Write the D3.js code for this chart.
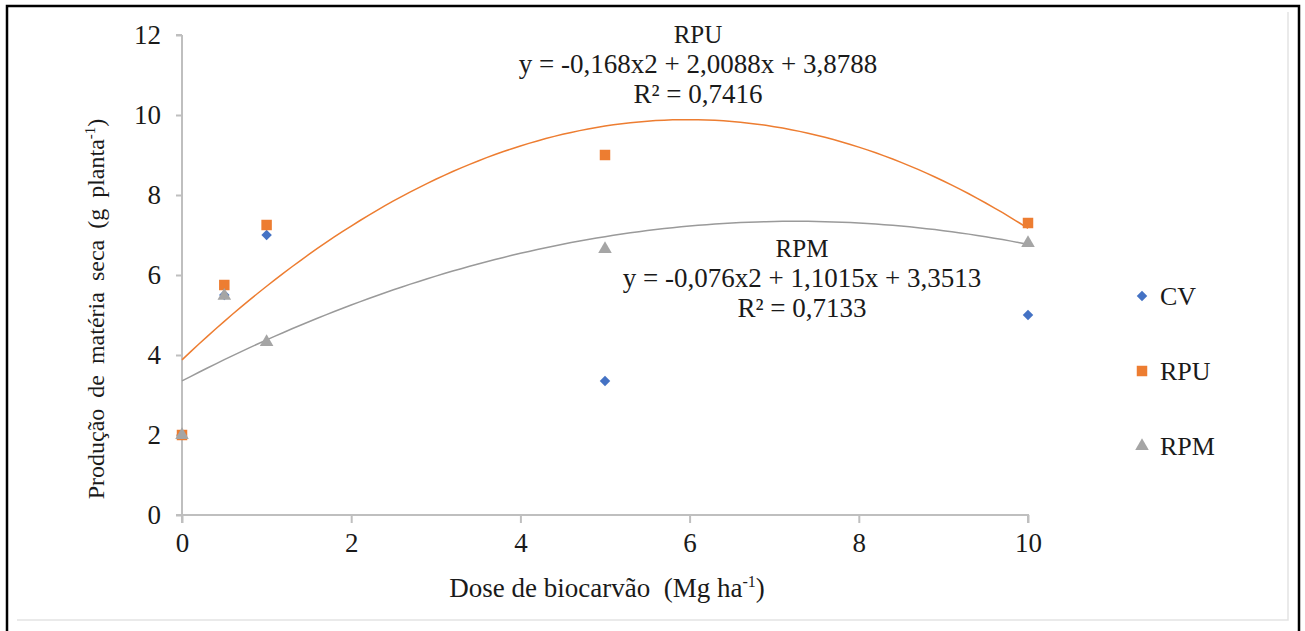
<html lang="en">
<head>
    <meta charset="UTF-8">
    <title>Produção de matéria seca</title>
    <style>
        body { margin: 0; background: #fff; }
        text { font-family: "Liberation Serif", "Times New Roman", serif; fill: #1a1a1a; }
    </style>
</head>
<body>
    <div id="graph"></div>
    <script src="https://d3js.org/d3.v7.min.js"></script>
    <script>
        // data
        var doses = [0, 0.5, 1, 5, 10];
        var cv  = [2, 5.5, 7.0, 3.35, 5.0];
        var rpu = [2, 5.75, 7.25, 9.0, 7.3];
        var rpm = [2, 5.48, 4.32, 6.65, 6.8];
        var seriesNames = ["CV", "RPU", "RPM"];
        var xTicks = [0, 2, 4, 6, 8, 10];
        var yTicks = [0, 2, 4, 6, 8, 10, 12];

        // trendline coefficients (a, b, c) as printed on the chart
        var rpuFit = [-0.168, 2.0088, 3.8788];
        var rpmFit = [-0.076, 1.1015, 3.3513];
        var rpuLabel = ["RPU", "y = -0,168x2 + 2,0088x + 3,8788", "R² = 0,7416"];
        var rpmLabel = ["RPM", "y = -0,076x2 + 1,1015x + 3,3513", "R² = 0,7133"];

        var colors = { CV: "#4472C4", RPU: "#ED7D31", RPM: "#A5A5A5" };

        var W = 1305, H = 631;
        var svg = d3.select("#graph").append("svg")
            .attr("width", W)
            .attr("height", H);

        // frame
        svg.append("path")
            .attr("d", "M7,640 V6 H1299 V640")
            .attr("fill", "none").attr("stroke", "#000").attr("stroke-width", 2.5);
        svg.append("path")
            .attr("d", "M17,620 H1288 V12")
            .attr("fill", "none").attr("stroke", "#e3e3e3").attr("stroke-width", 1.5);

        var x = d3.scaleLinear().domain([0, 10]).range([182, 1028]);
        var y = d3.scaleLinear().domain([0, 12]).range([515, 35]);

        // axes
        var xAxis = svg.append("g")
            .attr("transform", "translate(0," + y(0) + ")")
            .call(d3.axisBottom(x).tickValues(xTicks).tickSize(8).tickPadding(10).tickSizeOuter(0));
        var yAxis = svg.append("g")
            .attr("transform", "translate(" + x(0) + ",0)")
            .call(d3.axisLeft(y).tickValues(yTicks).tickSize(6).tickPadding(15).tickSizeOuter(0));

        [xAxis, yAxis].forEach(function(g) {
            g.select(".domain").attr("stroke", "#bfbfbf").attr("stroke-width", 2);
            g.selectAll(".tick line").attr("stroke", "#bfbfbf").attr("stroke-width", 2);
            g.selectAll(".tick text")
                .attr("fill", "#1a1a1a")
                .style("font-family", "'Liberation Serif', serif")
                .style("font-size", "27px");
        });
        // extend x axis line left of y axis and y axis below x axis
        xAxis.select(".domain").attr("d", "M" + (x(0) - 6) + ",0H" + x(10) + "V8");
        yAxis.select(".domain").attr("d", "M0," + y(12) + "H-6M0," + y(12) + "V" + (y(0) + 8));

        // trendlines
        function quad(c) {
            return function(v) { return c[0] * v * v + c[1] * v + c[2]; };
        }
        var fine = d3.range(0, 10.001, 0.1);
        var line = d3.line()
            .x(function(d) { return x(d[0]); })
            .y(function(d) { return y(d[1]); })
            .curve(d3.curveMonotoneX);
        var fRpu = quad(rpuFit), fRpm = quad(rpmFit);
        svg.append("path")
            .attr("d", line(fine.map(function(v) { return [v, fRpu(v)]; })))
            .attr("fill", "none").attr("stroke", colors.RPU).attr("stroke-width", 1.5);
        svg.append("path")
            .attr("d", line(fine.map(function(v) { return [v, fRpm(v)]; })))
            .attr("fill", "none").attr("stroke", "#9a9a9a").attr("stroke-width", 1.5);

        // markers (diamond = square turned 45 degrees)
        var shapes = { CV: d3.symbolSquare, RPU: d3.symbolSquare, RPM: d3.symbolTriangle };
        var sizes = { CV: 55, RPU: 110, RPM: 80 };
        var turn = { CV: " rotate(45)", RPU: "", RPM: "" };
        var seriesData = { CV: cv, RPU: rpu, RPM: rpm };

        seriesNames.forEach(function(name) {
            svg.append("g").selectAll("path")
                .data(doses)
                .enter().append("path")
                .attr("d", d3.symbol().type(shapes[name]).size(sizes[name]))
                .attr("transform", function(d, i) {
                    return "translate(" + x(d) + "," + y(seriesData[name][i]) + ")" + turn[name];
                })
                .attr("fill", colors[name]);
        });

        // equation labels
        function label(lines, cx, top) {
            var t = svg.append("text")
                .attr("text-anchor", "middle");
            lines.forEach(function(s, i) {
                t.append("tspan").attr("x", cx).attr("y", top + i * 30)
                    .style("font-size", i === 0 ? "25px" : "27px")
                    .text(s);
            });
        }
        label(rpuLabel, 698, 43);
        label(rpmLabel, 802, 257);

        // legend
        var legend = svg.append("g").attr("transform", "translate(1142,0)");
        var legendY = [296, 371, 446];
        seriesNames.forEach(function(name, i) {
            legend.append("path")
                .attr("d", d3.symbol().type(shapes[name]).size(sizes[name]))
                .attr("transform", "translate(0," + legendY[i] + ")" + turn[name])
                .attr("fill", colors[name]);
            legend.append("text")
                .attr("x", 18).attr("y", legendY[i] + 9)
                .style("font-size", "26px")
                .text(name);
        });

        // axis titles
        var xt = svg.append("text")
            .attr("x", 607).attr("y", 597)
            .attr("text-anchor", "middle")
            .style("white-space", "pre")
            .style("font-size", "27px");
        xt.append("tspan").text("Dose de biocarvão  (Mg ha");
        xt.append("tspan").attr("dy", -10).style("font-size", "16px").text("-1");
        xt.append("tspan").attr("dy", 10).text(")");

        var yt = svg.append("text")
            .attr("transform", "translate(104,309) rotate(-90)")
            .attr("text-anchor", "middle")
            .style("word-spacing", "5px")
            .style("font-size", "24px");
        yt.append("tspan").text("Produção de matéria seca (g planta");
        yt.append("tspan").attr("dy", -9).style("font-size", "15px").text("-1");
        yt.append("tspan").attr("dy", 9).text(")");
    </script>
</body>
</html>
